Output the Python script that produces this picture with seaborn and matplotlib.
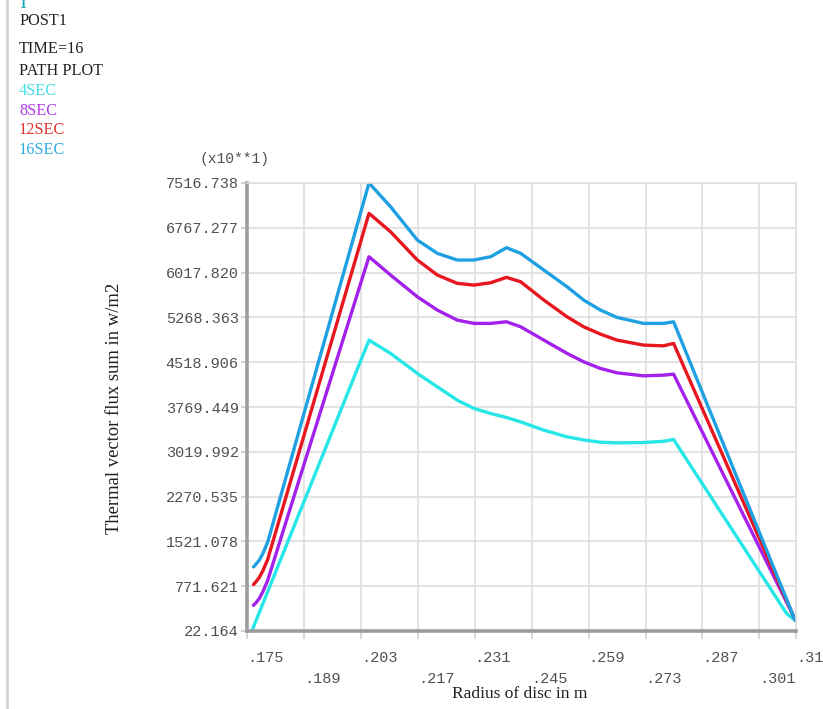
import matplotlib
matplotlib.use("Agg")
import matplotlib.pyplot as plt
from matplotlib.lines import Line2D
import seaborn as sns
import pandas as pd

# ---- data (flux values shown in units of 10 W/m2, as on the axis) ----
series_names = ["4SEC", "8SEC", "12SEC", "16SEC"]

radius_4s = [0.1762, 0.2050, 0.2103, 0.2169, 0.2218, 0.2267, 0.2308, 0.2349, 0.2388,
             0.2423, 0.2480, 0.2537, 0.2578, 0.2619, 0.2660, 0.2725, 0.2774, 0.2799,
             0.3077, 0.3098]
flux_4s = [22.164, 4888, 4666, 4331, 4107, 3884, 3745, 3661, 3594,
           3521, 3382, 3270, 3218, 3180, 3170, 3175, 3195, 3226,
           313, 200]

radius_8s = [0.1766, 0.1772, 0.1780, 0.1789, 0.1801, 0.2050, 0.2103, 0.2169, 0.2218,
             0.2267, 0.2308, 0.2349, 0.2388, 0.2423, 0.2480, 0.2537, 0.2578, 0.2619,
             0.2660, 0.2725, 0.2774, 0.2799, 0.3098]
flux_8s = [452, 494, 564, 678, 871, 6283, 5977, 5613, 5391,
           5223, 5168, 5168, 5195, 5111, 4888, 4666, 4525, 4415,
           4341, 4291, 4302, 4319, 215]

radius_12s = [0.1766, 0.1772, 0.1780, 0.1789, 0.1801, 0.2050, 0.2103, 0.2169, 0.2218,
              0.2267, 0.2308, 0.2349, 0.2388, 0.2423, 0.2480, 0.2537, 0.2578, 0.2619,
              0.2660, 0.2725, 0.2774, 0.2799, 0.3098]
flux_12s = [799, 846, 916, 1030, 1222, 7009, 6701, 6228, 5977,
            5838, 5809, 5848, 5938, 5864, 5558, 5278, 5111, 4989,
            4888, 4805, 4793, 4833, 205]

radius_16s = [0.1766, 0.1772, 0.1780, 0.1789, 0.1801, 0.2050, 0.2103, 0.2169, 0.2218,
              0.2267, 0.2308, 0.2349, 0.2388, 0.2423, 0.2480, 0.2537, 0.2578, 0.2619,
              0.2660, 0.2725, 0.2774, 0.2799, 0.3098]
flux_16s = [1094, 1139, 1206, 1318, 1512, 7516.738, 7120, 6562, 6340,
            6228, 6228, 6283, 6434, 6340, 6060, 5781, 5558, 5391,
            5268, 5168, 5168, 5195, 200]

y_tick_labels = ["22.164", "771.621", "1521.078", "2270.535", "3019.992", "3769.449",
                 "4518.906", "5268.363", "6017.820", "6767.277", "7516.738"]
x_major_labels = [".175", ".203", ".231", ".259", ".287", ".31"]
x_minor_labels = [".189", ".217", ".245", ".273", ".301"]

line_colors = {"4SEC": "#26e6e8", "8SEC": "#a321ea", "12SEC": "#e8161e", "16SEC": "#1fa0e2"}
text_colors = {"4SEC": "#3ee0e2", "8SEC": "#b03ae6", "12SEC": "#e0302e", "16SEC": "#2eaadf"}

frames = []
for name, xs, ys in zip(series_names,
                        [radius_4s, radius_8s, radius_12s, radius_16s],
                        [flux_4s, flux_8s, flux_12s, flux_16s]):
    frames.append(pd.DataFrame({"radius": xs, "flux": ys, "series": name}))
df = pd.concat(frames, ignore_index=True)

# ---- figure ----
sns.set_theme(style="white")
plt.rcParams['font.family'] = ['Liberation Serif', 'DejaVu Serif']
mono = ['Liberation Mono', 'DejaVu Sans Mono']

W, H = 823, 709
fig = plt.figure(figsize=(W / 100, H / 100), dpi=100)
ax = fig.add_axes([247 / W, 1 - 631 / H, 549 / W, 448 / H])

sns.lineplot(data=df, x="radius", y="flux", hue="series", hue_order=series_names,
             palette=line_colors, estimator=None, sort=False, linewidth=2.4,
             legend=False, ax=ax)

ymin, ymax = float(y_tick_labels[0]), float(y_tick_labels[-1])
xmin, xmax = float(x_major_labels[0]), float(x_major_labels[-1])
ax.set_xlim(xmin, xmax)
ax.set_ylim(ymin, ymax)

ax.set_yticks([float(v) for v in y_tick_labels])
ax.set_yticklabels(y_tick_labels, family=mono, fontsize=11, color="#505050")
ax.set_xticks([float(v) for v in x_major_labels])
ax.set_xticklabels(x_major_labels, family=mono, fontsize=11, color="#505050", ha="left")
ax.set_xticks([float(v) for v in x_minor_labels], minor=True)
ax.set_xticklabels(x_minor_labels, minor=True, family=mono, fontsize=11,
                   color="#505050", ha="left")

ax.tick_params(axis="x", which="major", length=6, width=1.2, color="#d0d0d0",
               pad=8.5, bottom=True)
ax.tick_params(axis="x", which="minor", length=6, width=1.2, color="#d0d0d0",
               pad=23.5, bottom=True)
ax.tick_params(axis="y", length=4, width=1.2, color="#c8c8c8", pad=2, left=True)

ax.grid(True, which="both", color="#dedede", linewidth=1.2)
ax.set_axisbelow(True)
for side in ("top", "right"):
    ax.spines[side].set_color("#dedede")
    ax.spines[side].set_linewidth(1.2)
for side in ("left", "bottom"):
    ax.spines[side].set_color("#9c9c9c")
    ax.spines[side].set_linewidth(2.6)

ax.set_xlabel("Radius of disc in m", fontsize=12.5, color="#202020")
ax.set_ylabel("Thermal vector flux sum in w/m2", fontsize=13.4, color="#202020")
ax.yaxis.set_label_coords(-0.225, 0.498)
ax.xaxis.set_label_coords(0.496, -0.122)

fig.text(200 / W, 1 - 159 / H, "(x10**1)", family=mono, fontsize=10.5,
         color="#505050", va="center")

# ---- header block ----
fig.add_artist(Line2D([7 / W, 7 / W], [0, 1], color="#d4d4d4", linewidth=2))
fig.text(20 / W, 1 - 5 / H, "1", color="#1faabb", fontsize=10, va="center",
         fontweight="bold")
header = [("POST1", 21, "#202020"), ("TIME=16", 49, "#202020"), ("PATH PLOT", 71, "#202020")]
header += [(name, y, text_colors[name]) for name, y in zip(series_names, [91, 111, 130, 150])]
for txt, y, c in header:
    fig.text(19 / W, 1 - y / H, txt, color=c, fontsize=11.7, va="center")

fig.savefig("out.png", dpi=100, facecolor="white")
